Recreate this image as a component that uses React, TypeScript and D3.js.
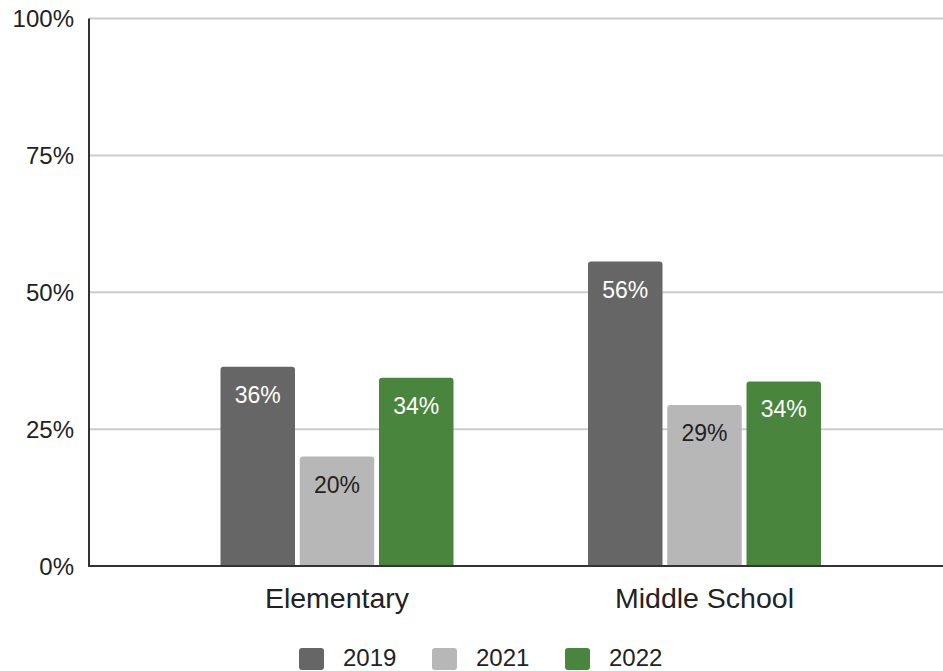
import React from "react";
import * as d3 from "d3";

const categories = ["Elementary", "Middle School"];
const seriesNames = ["2019", "2021", "2022"];
const values2019 = [0.364, 0.556];
const values2021 = [0.2, 0.294];
const values2022 = [0.344, 0.337];
const yTicks = [0, 0.25, 0.5, 0.75, 1];
const seriesColors = ["#666666", "#b7b7b7", "#4a853e"];
const labelColors = ["#ffffff", "#222222", "#ffffff"];

const W = 943;
const H = 671;
const FONT = "'Liberation Sans', Arial, Helvetica, sans-serif";

function topRounded(x: number, y: number, w: number, h: number, r: number) {
  const rr = Math.min(r, h, w / 2);
  return `M${x},${y + h}V${y + rr}Q${x},${y} ${x + rr},${y}H${x + w - rr}Q${x + w},${y} ${x + w},${y + rr}V${y + h}Z`;
}

export default function App() {
  const series = [values2019, values2021, values2022];
  const y = d3.scaleLinear().domain([0, 1]).range([566, 18.5]);
  const x0 = d3.scaleBand<string>().domain(categories).range([153.25, 888.25]).paddingInner(0.366).paddingOuter(0.183);
  const x1 = d3.scaleBand<string>().domain(seriesNames).range([0, x0.bandwidth()]).paddingInner(0.06).paddingOuter(0);
  const fmt = d3.format(".0%");

  const legendX = [299, 432, 565];

  return (
    <svg width={W} height={H} style={{ position: "absolute", left: 0, top: 0, background: "#fff" }} fontFamily={FONT}>
      <rect x={0} y={0} width={W} height={H} fill="#fff" />
      {yTicks.map((t) => (
        <g key={t}>
          {t > 0 && <line x1={89} x2={W} y1={y(t)} y2={y(t)} stroke="#cccccc" strokeWidth={2} />}
          <text x={74} y={y(t)} dy="0.36em" textAnchor="end" fontSize={24} fill="#222">
            {fmt(t)}
          </text>
        </g>
      ))}
      {categories.map((c, ci) => (
        <g key={c} transform={`translate(${x0(c)},0)`}>
          {seriesNames.map((s, si) => {
            const v = series[si][ci];
            const bx = x1(s)!;
            const bw = x1.bandwidth();
            return (
              <g key={s}>
                <path d={topRounded(bx, y(v), bw, y(0) - y(v), 3)} fill={seriesColors[si]} />
                <text x={bx + bw / 2} y={y(v) + 36} textAnchor="middle" fontSize={23} fill={labelColors[si]}>
                  {fmt(v)}
                </text>
              </g>
            );
          })}
          <text x={x0.bandwidth() / 2} y={608} textAnchor="middle" fontSize={28.5} fill="#222">
            {c}
          </text>
        </g>
      ))}
      <line x1={89} x2={89} y1={y(1)} y2={y(0)} stroke="#333" strokeWidth={2} />
      <line x1={88} x2={W} y1={y(0)} y2={y(0)} stroke="#333" strokeWidth={2} />
      {seriesNames.map((s, i) => (
        <g key={s}>
          <rect x={legendX[i]} y={648} width={25} height={22} rx={3} fill={seriesColors[i]} />
          <text x={legendX[i] + 44} y={666} fontSize={24} fill="#222">
            {s}
          </text>
        </g>
      ))}
    </svg>
  );
}
